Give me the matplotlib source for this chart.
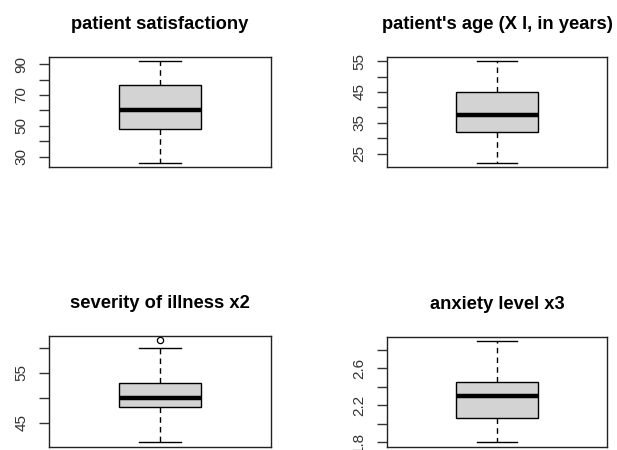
import matplotlib.pyplot as plt

plt.rcParams['font.family'] = ['Liberation Sans', 'DejaVu Sans']

# five-number summaries
titles = ["patient satisfactiony", "patient's age (X l, in years)",
          "severity of illness x2", "anxiety level x3"]
q1 = [48, 32, 48.2, 2.06]
med = [60.5, 37.6, 50, 2.30]
q3 = [76.5, 45, 53, 2.45]
whislo = [26, 22, 41, 1.8]
whishi = [92, 55, 60, 2.9]
outliers = [[], [], [61.7], []]

ticks = [[30, 40, 50, 60, 70, 80, 90],
         [25, 30, 35, 40, 45, 50, 55],
         [45, 50, 55, 60],
         [1.8, 2.0, 2.2, 2.4, 2.6, 2.8]]
labels = [["30", "", "50", "", "70", "", "90"],
          ["25", "", "35", "", "45", "", "55"],
          ["45", "", "55", ""],
          ["1.8", "", "2.2", "", "2.6", ""]]

fig = plt.figure(figsize=(6.17, 4.5), dpi=100)
rects = [[49 / 617, 1 - 167 / 450, 222 / 617, 110 / 450],
         [387 / 617, 1 - 167 / 450, 220 / 617, 110 / 450],
         [49 / 617, 1 - 446.5 / 450, 222 / 617, 111 / 450],
         [387 / 617, 1 - 446.5 / 450, 220 / 617, 110 / 450]]

for i in range(4):
    ax = fig.add_axes(rects[i])
    stats = [dict(med=med[i], q1=q1[i], q3=q3[i], whislo=whislo[i],
                  whishi=whishi[i], fliers=outliers[i])]
    ax.bxp(stats, positions=[1], widths=0.4, capwidths=0.2, patch_artist=True,
           boxprops=dict(facecolor='#d3d3d3', edgecolor='black', linewidth=1),
           medianprops=dict(color='black', linewidth=3.2, solid_capstyle='butt'),
           whiskerprops=dict(color='black', linewidth=1, linestyle=(0, (4, 3))),
           capprops=dict(color='black', linewidth=1),
           flierprops=dict(marker='o', markersize=4.5, markerfacecolor='none',
                           markeredgecolor='black', markeredgewidth=0.9))
    lo = min([whislo[i]] + outliers[i])
    hi = max([whishi[i]] + outliers[i])
    span = hi - lo
    ax.set_ylim(lo - 0.04 * span, hi + 0.04 * span)
    ax.set_xlim(0.46, 1.54)
    ax.set_xticks([])
    ax.set_yticks(ticks[i])
    ax.set_yticklabels(labels[i], rotation=90, va='center', fontsize=11, color='#333333')
    ax.tick_params(axis='y', length=7, width=1, pad=8, color='#333333')
    for s in ax.spines.values():
        s.set_linewidth(1)
        s.set_color('#222222')
    ax.set_title(titles[i], fontsize=13.2, fontweight='bold', pad=20)

fig.savefig('out.png', dpi=100)
